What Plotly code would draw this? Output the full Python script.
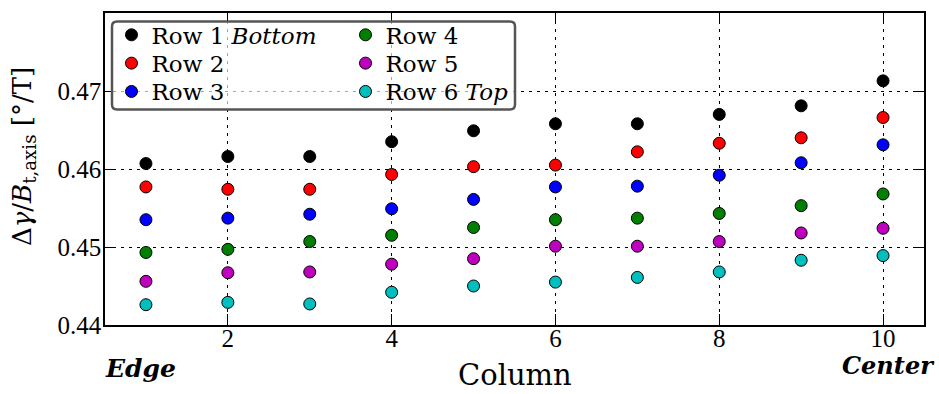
import plotly.graph_objects as go

columns = [1, 2, 3, 4, 5, 6, 7, 8, 9, 10]
row1 = [0.4607, 0.4616, 0.4616, 0.4635, 0.4649, 0.4658, 0.4658, 0.4670, 0.4681, 0.4713]
row2 = [0.4577, 0.4574, 0.4574, 0.4593, 0.4603, 0.4605, 0.4622, 0.4633, 0.4640, 0.4666]
row3 = [0.4535, 0.4537, 0.4542, 0.4549, 0.4561, 0.4577, 0.4578, 0.4592, 0.4608, 0.4631]
row4 = [0.4493, 0.4497, 0.4507, 0.4515, 0.4525, 0.4535, 0.4537, 0.4543, 0.4553, 0.4568]
row5 = [0.4456, 0.4467, 0.4468, 0.4478, 0.4485, 0.4501, 0.4501, 0.4507, 0.4518, 0.4524]
row6 = [0.4426, 0.4429, 0.4427, 0.4442, 0.4450, 0.4455, 0.4461, 0.4468, 0.4483, 0.4489]

series_names = ["Row 1 <i>Bottom</i>", "Row 2", "Row 3", "Row 4", "Row 5", "Row 6 <i>Top</i>"]
series_values = [row1, row2, row3, row4, row5, row6]
series_colors = ["#000000", "#FF0000", "#0000FF", "#008000", "#BF00BF", "#00BFBF"]

x_ticks = [2, 4, 6, 8, 10]
y_ticks = [0.44, 0.45, 0.46, 0.47, 0.48]
y_tick_labels = ["0.44", "0.45", "0.46", "0.47", "0.48"]

W, H = 939, 394
ML, MR, MT, MB = 105, 15, 11, 69
PW = W - ML - MR
PH = H - MT - MB


def px(xp):
    return (xp - ML) / PW


def py(yp):
    return (H - MB - yp) / PH


fig = go.Figure()
legend_ids = ["legend", "legend2", "legend3", "legend4", "legend5", "legend6"]
for name, vals, col, lid in zip(series_names, series_values, series_colors, legend_ids):
    fig.add_trace(go.Scatter(
        x=columns, y=vals, mode="markers", name=name, legend=lid,
        marker=dict(size=12, color=col, line=dict(color="black", width=1)),
    ))

# legend item positions (symbol center px)
leg_pos = [(128, 33), (128, 61.5), (128, 90), (362, 33), (362, 61.5), (362, 90)]
legend_font = dict(family="DejaVu Serif", size=23, color="black")
layout_legends = {}
for lid, (lx, ly) in zip(legend_ids, leg_pos):
    layout_legends[lid] = dict(
        x=px(lx - 16.5), y=py(ly), xanchor="left", yanchor="middle",
        bgcolor="rgba(0,0,0,0)", borderwidth=0, font=legend_font,
        xref="paper", yref="paper",
    )

# rounded legend frame
x0, x1 = px(112), px(515)
y0, y1 = py(108), py(19.5)
rx, ry = 5 / PW, 5 / PH
path = (f"M {x0+rx},{y0} L {x1-rx},{y0} Q {x1},{y0} {x1},{y0+ry} "
        f"L {x1},{y1-ry} Q {x1},{y1} {x1-rx},{y1} L {x0+rx},{y1} "
        f"Q {x0},{y1} {x0},{y1-ry} L {x0},{y0+ry} Q {x0},{y0} {x0+rx},{y0} Z")

fig.update_layout(
    width=W, height=H,
    margin=dict(l=ML, r=MR, t=MT, b=MB),
    plot_bgcolor="white", paper_bgcolor="white",
    showlegend=True,
    **layout_legends,
    shapes=[dict(type="path", path=path, xref="paper", yref="paper",
                 line=dict(color="#555555", width=2.5),
                 fillcolor="rgba(255,255,255,0.65)", layer="above")],
    annotations=[
        dict(text="Δ<i>γ</i>/<i>B</i><sub>t,axis</sub> [°/T]", textangle=-90,
             x=px(23), y=py(156), xref="paper", yref="paper",
             xanchor="center", yanchor="middle", showarrow=False,
             font=dict(family="DejaVu Serif", size=26, color="black")),
        dict(text="Column", x=0.5, y=py(375), xref="paper", yref="paper",
             xanchor="center", yanchor="middle", showarrow=False,
             font=dict(family="DejaVu Serif", size=29, color="black")),
        dict(text="<b><i>Edge</i></b>", x=px(103), y=py(369), xref="paper", yref="paper",
             xanchor="left", yanchor="middle", showarrow=False,
             font=dict(family="DejaVu Serif", size=25, color="black")),
        dict(text="<b><i>Center</i></b>", x=px(937), y=py(366), xref="paper", yref="paper",
             xanchor="right", yanchor="middle", showarrow=False,
             font=dict(family="DejaVu Serif", size=24, color="black")),
    ],
)

fig.update_xaxes(
    range=[0.5, 10.5], tickvals=x_ticks, ticktext=[str(v) for v in x_ticks],
    showgrid=True, gridcolor="black", griddash="3px,5px", gridwidth=1,
    showline=True, linecolor="black", linewidth=1.5, mirror="ticks",
    ticks="inside", ticklen=11, tickwidth=1, tickcolor="black",
    tickfont=dict(family="Liberation Serif", size=25, color="black"),
    ticklabelstandoff=-10,
    zeroline=False,
)
fig.update_yaxes(
    range=[0.44, 0.48], tickvals=y_ticks, ticktext=y_tick_labels,
    showgrid=True, gridcolor="black", griddash="3px,5px", gridwidth=1,
    showline=True, linecolor="black", linewidth=1.5, mirror="ticks",
    ticks="inside", ticklen=11, tickwidth=1, tickcolor="black",
    tickfont=dict(family="Liberation Serif", size=25, color="black"),
    ticklabelstandoff=-3,
    zeroline=False,
)

fig.write_html("out.html", config={"displayModeBar": False},
               post_script="document.body.style.margin='0px';document.body.style.padding='0px';")
